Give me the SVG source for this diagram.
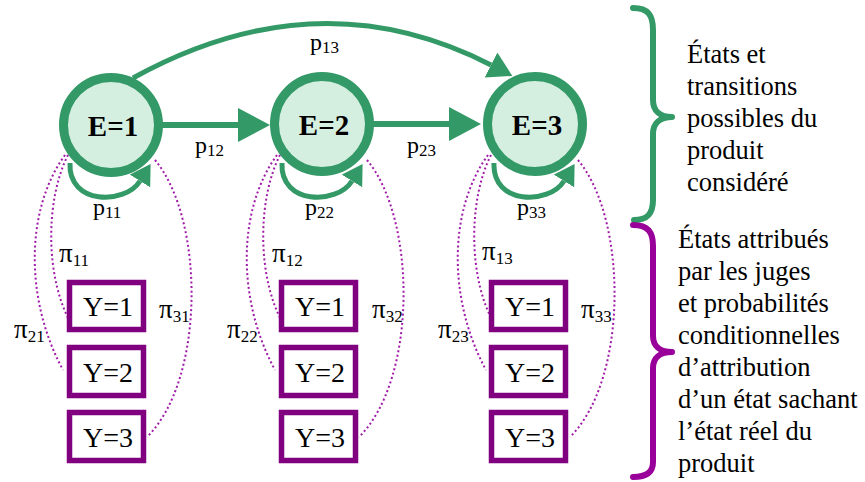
<svg xmlns="http://www.w3.org/2000/svg" width="865" height="482" viewBox="0 0 865 482" font-family="Liberation Serif, serif">
<style>
text{font-family:"Liberation Serif",serif;fill:#000}
.state circle{fill:#d4efe0;stroke:#339966;stroke-width:9}
.state text{font-weight:bold;font-size:29px;text-anchor:middle}
.obs rect{fill:#fff;stroke:#800080;stroke-width:5.5}
.obs text{font-size:28px;text-anchor:middle}
.trans{fill:none;stroke:#339966;stroke-width:6}
.arc{fill:none;stroke:#339966;stroke-width:5}
.loop{fill:none;stroke:#339966;stroke-width:5}
.emis{fill:none;stroke:#a01aa8;stroke-width:2;stroke-dasharray:2 2.6}
.lbl{font-size:24px}
.pi{font-size:27px}
.sub{font-size:17px}
.brace{fill:none;stroke-width:6;stroke-linecap:round;stroke-linejoin:round}
.note{font-size:26.5px}
</style>
<defs>
<marker id="aBig" markerUnits="userSpaceOnUse" markerWidth="34" markerHeight="36" refX="0" refY="17" orient="auto"><path d="M0,0 L32,17 L0,34 z" fill="#339966"/></marker>
<marker id="aMid" markerUnits="userSpaceOnUse" markerWidth="26" markerHeight="30" refX="0" refY="14" orient="auto"><path d="M0,0 L24,14 L0,28 z" fill="#339966"/></marker>
<marker id="aLoop" markerUnits="userSpaceOnUse" markerWidth="22" markerHeight="26" refX="0" refY="12" orient="auto"><path d="M0,0 L20,12 L0,24 z" fill="#339966"/></marker>
</defs>

<g id="connectors">
<path class="trans" d="M160,125 L238,125" marker-end="url(#aBig)"/>
<path class="trans" d="M372,124 L449,124" marker-end="url(#aBig)"/>
<path class="arc" d="M133,78 Q318,-24 491,65" marker-end="url(#aMid)"/>
<path class="loop" d="M70,163 C68,205 125,205 140,181" marker-end="url(#aLoop)"/>
<path class="loop" d="M282,163 C280,205 337,205 352,181" marker-end="url(#aLoop)"/>
<path class="loop" d="M494,163 C492,205 549,205 564,181" marker-end="url(#aLoop)"/>
<path class="emis" d="M65,155 C25,210 25,300 63,370"/>
<path class="emis" d="M68,155 C45,200 45,280 72,325"/>
<path class="emis" d="M155,160 C205,220 205,380 147,437"/>
<path class="emis" d="M277,155 C237,210 237,300 275,370"/>
<path class="emis" d="M280,155 C257,200 257,280 284,325"/>
<path class="emis" d="M367,160 C417,220 417,380 359,437"/>
<path class="emis" d="M488,155 C448,210 448,300 486,370"/>
<path class="emis" d="M491,155 C468,200 468,280 495,325"/>
<path class="emis" d="M578,160 C628,220 628,380 570,437"/>
<text class="lbl" x="310" y="50">p<tspan class="sub" dy="3">13</tspan></text>
<text class="lbl" x="195" y="153">p<tspan class="sub" dy="3">12</tspan></text>
<text class="lbl" x="407" y="153">p<tspan class="sub" dy="3">23</tspan></text>
<text class="lbl" x="93" y="215">p<tspan class="sub" dy="3">11</tspan></text>
<text class="lbl" x="305" y="215">p<tspan class="sub" dy="3">22</tspan></text>
<text class="lbl" x="517" y="215">p<tspan class="sub" dy="3">33</tspan></text>
<text class="pi" x="59" y="262">π<tspan class="sub" dy="4">11</tspan></text>
<text class="pi" x="14" y="338">π<tspan class="sub" dy="4">21</tspan></text>
<text class="pi" x="159" y="318">π<tspan class="sub" dy="4">31</tspan></text>
<text class="pi" x="272" y="262">π<tspan class="sub" dy="4">12</tspan></text>
<text class="pi" x="227" y="338">π<tspan class="sub" dy="4">22</tspan></text>
<text class="pi" x="372" y="318">π<tspan class="sub" dy="4">32</tspan></text>
<text class="pi" x="482" y="260">π<tspan class="sub" dy="4">13</tspan></text>
<text class="pi" x="438" y="338">π<tspan class="sub" dy="4">23</tspan></text>
<text class="pi" x="581" y="318">π<tspan class="sub" dy="4">33</tspan></text>
</g>

<g id="E1" class="state"><circle cx="111" cy="125" r="47.5"/><text x="113" y="136">E=1</text></g>
<g id="E2" class="state"><circle cx="322" cy="124" r="47.5"/><text x="324" y="135">E=2</text></g>
<g id="E3" class="state"><circle cx="535" cy="124" r="47.5"/><text x="537" y="135">E=3</text></g>

<g id="Y1_E1" class="obs"><rect x="69.5" y="282.5" width="74" height="47"/><text x="108" y="316">Y=1</text></g>
<g id="Y2_E1" class="obs"><rect x="69.5" y="347.5" width="74" height="48"/><text x="108" y="382">Y=2</text></g>
<g id="Y3_E1" class="obs"><rect x="69.5" y="412.5" width="74" height="48"/><text x="108" y="447">Y=3</text></g>
<g id="Y1_E2" class="obs"><rect x="281.5" y="282.5" width="74" height="47"/><text x="320" y="316">Y=1</text></g>
<g id="Y2_E2" class="obs"><rect x="281.5" y="347.5" width="74" height="48"/><text x="320" y="382">Y=2</text></g>
<g id="Y3_E2" class="obs"><rect x="281.5" y="412.5" width="74" height="48"/><text x="320" y="447">Y=3</text></g>
<g id="Y1_E3" class="obs"><rect x="491.5" y="282.5" width="74" height="47"/><text x="530" y="316">Y=1</text></g>
<g id="Y2_E3" class="obs"><rect x="491.5" y="347.5" width="74" height="48"/><text x="530" y="382">Y=2</text></g>
<g id="Y3_E3" class="obs"><rect x="491.5" y="412.5" width="74" height="48"/><text x="530" y="447">Y=3</text></g>

<g id="legend_states">
<path class="brace" stroke="#339966" d="M633,8 C648,8 653,15 653,30 L653,100 C653,111 660,117 672,117 C660,117 653,123 653,134 L653,200 C653,214 647,220 634,220"/>
<text class="note" x="687" y="63">États et</text>
<text class="note" x="687" y="95">transitions</text>
<text class="note" x="687" y="127">possibles du</text>
<text class="note" x="687" y="159">produit</text>
<text class="note" x="687" y="191">considéré</text>
</g>
<g id="legend_obs">
<path class="brace" stroke="#990099" d="M633,225 C648,225 653,232 653,246 L653,336 C653,346 660,352 672,352 C660,352 653,358 653,368 L653,462 C653,472 647,477 633,477"/>
<text class="note" x="678" y="248">États attribués</text>
<text class="note" x="678" y="280">par les juges</text>
<text class="note" x="678" y="312">et probabilités</text>
<text class="note" x="678" y="344">conditionnelles</text>
<text class="note" x="678" y="376">d’attribution</text>
<text class="note" x="678" y="408">d’un état sachant</text>
<text class="note" x="678" y="440">l’état réel du</text>
<text class="note" x="678" y="472">produit</text>
</g>
</svg>
